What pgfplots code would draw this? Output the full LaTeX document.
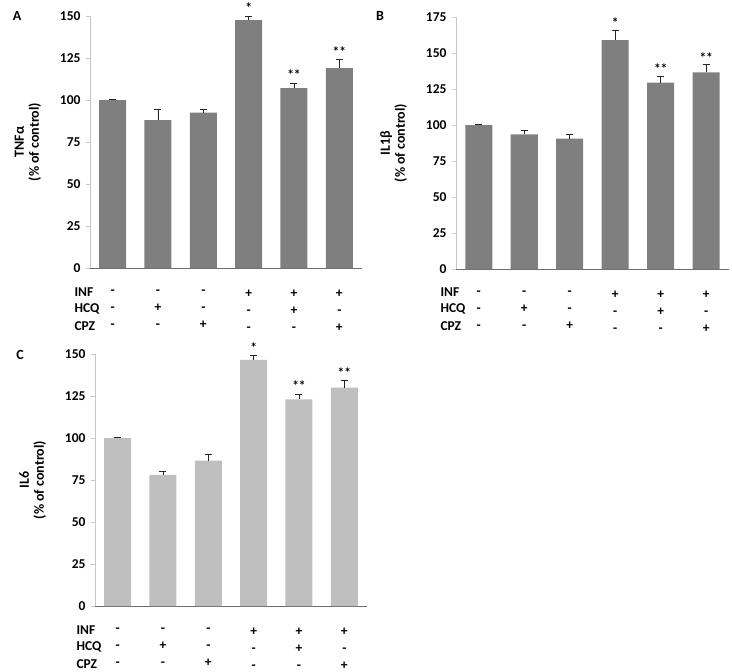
\documentclass[border=0pt]{standalone}
\usepackage{pgfplots}
\pgfplotsset{compat=1.18}
\usepackage{fontspec}
\setmainfont{Carlito}
\definecolor{darkbar}{HTML}{7F7F7F}
\definecolor{lightbar}{HTML}{BFBFBF}
\definecolor{yline}{HTML}{C8C8C8}
\definecolor{xline}{HTML}{6E6E6E}

\pgfplotsset{
  panel/.style={
    scale only axis,
    anchor=south west,
    width=272pt, height=252pt,
    axis x line*=bottom, axis y line*=left,
    xmin=0.5, xmax=6.5, ymin=0,
    ybar, bar width=27pt, bar shift=0pt,
    xtick={1,...,6},
    major x tick style={draw=none},
    extra x ticks={0.5,1.5,...,6.5},
    extra x tick labels={},
    extra x tick style={major tick length=5pt, tick align=outside, tick style={draw=xline, line width=0.8pt}},
    xticklabels={{-\\-\\-},{-\\+\\-},{-\\-\\+},{+\\-\\-},{+\\+\\-},{+\\-\\+}},
    xticklabel style={align=center, font=\bfseries\fontsize{13.5}{17}\selectfont, yshift=-14pt},
    yticklabel style={font=\bfseries\fontsize{13.5}{15}\selectfont, xshift=-2pt},
    /pgf/number format/assume math mode=true,
    tick align=outside, major tick length=4pt,
    y axis line style={draw=yline, line width=0.9pt},
    x axis line style={draw=xline, line width=0.9pt},
    ytick style={draw=yline, line width=0.9pt},
    ylabel style={font=\bfseries\fontsize{14}{15}\selectfont, align=center},
    ylabel shift=12pt,
    every axis plot/.append style={draw=none},
    error bars/y dir=plus, error bars/y explicit,
    error bars/error bar style={draw=black!85, line width=0.7pt},
    error bars/error mark options={draw=black!85, line width=0.7pt, rotate=90, mark size=3.5pt},
    clip=false,
  },
}
\tikzset{
  star/.style={font=\bfseries\fontsize{13.5}{13}\selectfont},
  rowlbl/.style={anchor=west, font=\bfseries\fontsize{13.5}{13}\selectfont},
  panellbl/.style={font=\bfseries\fontsize{14}{14}\selectfont},
}

\begin{document}
\begin{tikzpicture}
\useasboundingbox (0pt,0pt) rectangle (732pt,-672pt);

% Panel A
\begin{axis}[panel, at={(90pt,-268pt)}, ymax=150, ytick={0,25,...,150},
  ylabel={TNFα\\(\% of control)}]
\addplot[fill=darkbar] coordinates {
  (1,100) +- (0,0.4)
  (2,88) +- (0,6.5)
  (3,92.5) +- (0,2)
  (4,147.5) +- (0,2.5)
  (5,107) +- (0,3)
  (6,119) +- (0,5)
};
\node[star] at (axis cs:4,155) {*};
\node[star] at (axis cs:5,115) {**};
\node[star] at (axis cs:6,129) {**};
\end{axis}
\node[rowlbl] at (71pt,-292pt) {INF};
\node[rowlbl] at (71pt,-309pt) {HCQ};
\node[rowlbl] at (71pt,-326pt) {CPZ};
\node[panellbl] at (17pt,-16pt) {A};

% Panel B
\begin{axis}[panel, at={(456pt,-269pt)}, width=273pt, ymax=175, ytick={0,25,...,175},
  ylabel={IL1β\\(\% of control)}]
\addplot[fill=darkbar] coordinates {
  (1,100) +- (0,0.4)
  (2,93.5) +- (0,2.5)
  (3,90.5) +- (0,3)
  (4,159) +- (0,7)
  (5,129.5) +- (0,4.5)
  (6,136.5) +- (0,5.5)
};
\node[star] at (axis cs:4,171) {*};
\node[star] at (axis cs:5,139) {**};
\node[star] at (axis cs:6,147) {**};
\end{axis}
\node[rowlbl] at (437pt,-292pt) {INF};
\node[rowlbl] at (437pt,-309pt) {HCQ};
\node[rowlbl] at (437pt,-326pt) {CPZ};
\node[panellbl] at (380pt,-16pt) {B};

% Panel C
\begin{axis}[panel, at={(95pt,-606pt)}, ymax=150, ytick={0,25,...,150},
  ylabel={IL6\\(\% of control)}]
\addplot[fill=lightbar] coordinates {
  (1,100) +- (0,0.4)
  (2,78) +- (0,2)
  (3,86.5) +- (0,4)
  (4,146.5) +- (0,2.5)
  (5,123) +- (0,3)
  (6,130) +- (0,4.5)
};
\node[star] at (axis cs:4,154) {*};
\node[star] at (axis cs:5,131) {**};
\node[star] at (axis cs:6,139) {**};
\end{axis}
\node[rowlbl] at (73pt,-630pt) {INF};
\node[rowlbl] at (73pt,-647pt) {HCQ};
\node[rowlbl] at (73pt,-664pt) {CPZ};
\node[panellbl] at (20pt,-355pt) {C};
\end{tikzpicture}
\end{document}
